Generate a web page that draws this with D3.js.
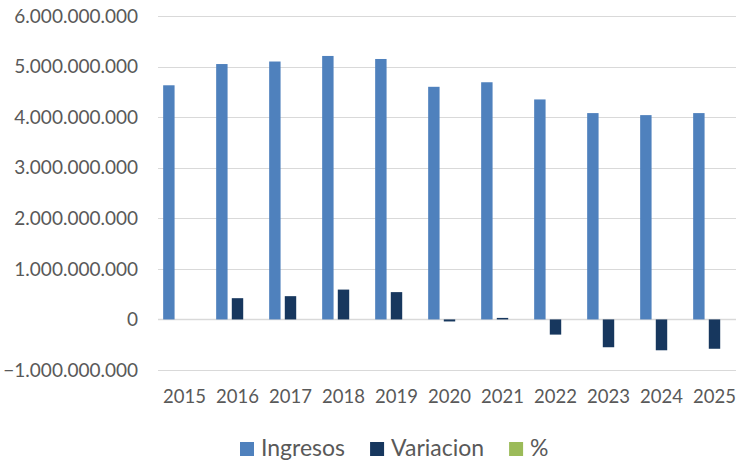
<!DOCTYPE html>
<html>
<head>
<meta charset="utf-8">
<script src="https://cdn.jsdelivr.net/npm/d3@7"></script>
<style>
  body { margin: 0; background: #fff; }
  svg { font-family: Lato, "Open Sans", sans-serif; }
</style>
</head>
<body>
<svg></svg>
<script>
var years = ["2015", "2016", "2017", "2018", "2019", "2020", "2021", "2022", "2023", "2024", "2025"];
var seriesNames = ["Ingresos", "Variacion", "%"];
var ingresos = [4630000000, 5050000000, 5100000000, 5210000000, 5150000000, 4600000000, 4690000000, 4350000000, 4080000000, 4040000000, 4080000000];
var variacion = [0, 420000000, 460000000, 590000000, 540000000, -40000000, 30000000, -300000000, -550000000, -610000000, -580000000];
var pct = [0, 0.09, 0.1, 0.13, 0.12, -0.01, 0.01, -0.06, -0.12, -0.13, -0.13];
var yTicks = [-1000000000, 0, 1000000000, 2000000000, 3000000000, 4000000000, 5000000000, 6000000000];
var colors = ["#4f81bd", "#17375e", "#9bbb59"];

var width = 736;
var height = 461;

var svg = d3.select("svg")
  .attr("width", width)
  .attr("height", height);

var data = years.map(function(y, i) {
  return { year: y, values: [ingresos[i], variacion[i], pct[i]] };
});

var scaleX = d3.scaleBand()
  .domain(years)
  .range([158, 741]);

var scaleInner = d3.scaleBand()
  .domain(d3.range(seriesNames.length))
  .range([0, scaleX.bandwidth()])
  .paddingInner(0.27)
  .paddingOuter(0.33);

var scaleY = d3.scaleLinear()
  .domain([-1000000000, 6000000000])
  .range([370, 16]);

var fmt = function(v) {
  return d3.format(",")(v).replace(/,/g, ".");
};

// gridlines
svg.append("g")
  .selectAll("line")
  .data(yTicks)
  .enter()
  .append("line")
  .attr("x1", 158)
  .attr("x2", width)
  .attr("y1", function(d) { return Math.round(scaleY(d)) + 0.5; })
  .attr("y2", function(d) { return Math.round(scaleY(d)) + 0.5; })
  .attr("stroke", "#d9d9d9")
  .attr("stroke-width", function(d) { return d === 0 ? 1.5 : 1; });

// y axis labels
svg.append("g")
  .selectAll("text")
  .data(yTicks)
  .enter()
  .append("text")
  .attr("x", 138)
  .attr("y", function(d) { return scaleY(d); })
  .attr("dy", "0.35em")
  .attr("text-anchor", "end")
  .attr("font-size", 19)
  .attr("fill", "#595959")
  .text(fmt);

// bars
var groups = svg.append("g")
  .selectAll("g")
  .data(data)
  .enter()
  .append("g")
  .attr("transform", function(d) { return "translate(" + scaleX(d.year) + ",0)"; });

groups.selectAll("rect")
  .data(function(d) { return d.values; })
  .enter()
  .append("rect")
  .attr("x", function(d, i) { return scaleInner(i); })
  .attr("width", scaleInner.bandwidth())
  .attr("y", function(d) { return scaleY(Math.max(0, d)); })
  .attr("height", function(d) { return Math.abs(scaleY(d) - scaleY(0)); })
  .attr("fill", function(d, i) { return colors[i]; });

// x axis labels
svg.append("g")
  .selectAll("text")
  .data(years)
  .enter()
  .append("text")
  .attr("x", function(d) { return scaleX(d) + scaleX.bandwidth() / 2; })
  .attr("y", 403)
  .attr("text-anchor", "middle")
  .attr("font-size", 18.5)
  .attr("fill", "#595959")
  .text(function(d) { return d; });

// legend
var legend = svg.append("g");
var lx = 240;
seriesNames.forEach(function(name, i) {
  legend.append("rect")
    .attr("x", lx)
    .attr("y", 442)
    .attr("width", 14)
    .attr("height", 14)
    .attr("fill", colors[i]);
  var t = legend.append("text")
    .attr("x", lx + 21)
    .attr("y", 456)
    .attr("font-size", 23)
    .attr("fill", "#595959")
    .text(name);
  lx = lx + 21 + t.node().getComputedTextLength() + 25;
});
</script>
</body>
</html>
